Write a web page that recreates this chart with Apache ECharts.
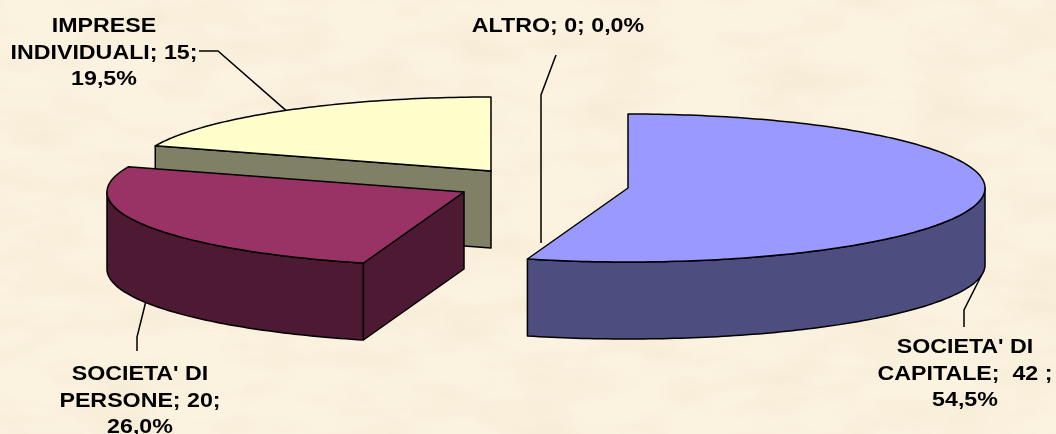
<!DOCTYPE html>
<html>
<head>
<meta charset="utf-8">
<style>
  html, body { margin: 0; padding: 0; }
  body {
    background-color: #fbf2e0;
    background-image: url("data:image/svg+xml,%3Csvg xmlns='http://www.w3.org/2000/svg' width='1056' height='434'%3E%3Cfilter id='n'%3E%3CfeTurbulence type='fractalNoise' baseFrequency='.012 .03' numOctaves='3' seed='4'/%3E%3CfeColorMatrix values='0 0 0 0 .88 0 0 0 0 .78 0 0 0 0 .58 0 0 0 .9 -.34'/%3E%3C/filter%3E%3Crect width='1056' height='434' filter='url(%23n)'/%3E%3C/svg%3E");
  }
  #main { width: 1056px; height: 434px; }
</style>
</head>
<body>
<div id="main"></div>
<script src="https://cdn.jsdelivr.net/npm/echarts@6/dist/echarts.min.js"></script>
<script>
var categories = ["SOCIETA' DI CAPITALE", "SOCIETA' DI PERSONE", "IMPRESE INDIVIDUALI", "ALTRO"];
var values = [42, 20, 15, 0];
var labelTexts = [
  "SOCIETA' DI\nCAPITALE;  42 ;\n54,5%",
  "SOCIETA' DI\nPERSONE; 20;\n26,0%",
  "IMPRESE\nINDIVIDUALI; 15;\n19,5%",
  "ALTRO; 0; 0,0%"
];
var topColors = ["#9999ff", "#993366", "#ffffcc", "#ffffff"];
var sideColors = ["#4d4d80", "#4d1933", "#808066", "#808080"];

// layout of the tilted pie
var rx = 357, ry = 74, depth = 77;
var centers = [[628, 188], [464, 192], [491, 171], [541, 171]];
var labelPos = [[965, 345], [140, 372], [104, 24], [558, 24]];
// leader bends, the first point is worked out from the slice edge
var leaderBends = [
  [[964, 310], [964, 327]],
  [[137, 337], [137, 351]],
  [[218, 51], [199, 51]],
  [[541, 95], [556, 55]]
];

var total = values.reduce(function (a, b) { return a + b; }, 0);

function pt(c, deg, drop) {
  var r = deg * Math.PI / 180;
  return [c[0] + rx * Math.sin(r), c[1] - ry * Math.cos(r) + (drop || 0)];
}

function arc(c, from, to, drop) {
  var pts = [];
  var n = Math.max(2, Math.ceil(Math.abs(to - from)));
  for (var i = 0; i <= n; i++) {
    pts.push(pt(c, from + (to - from) * i / n, drop));
  }
  return pts;
}

function poly(points, fill) {
  return {
    type: "polygon",
    shape: { points: points },
    style: { fill: fill, stroke: "#000", lineWidth: 1.5, lineJoin: "round" }
  };
}

function cutWall(c, deg, fill) {
  var p = pt(c, deg);
  return poly([c, p, [p[0], p[1] + depth], [c[0], c[1] + depth]], fill);
}

function renderSlice(idx, from, to) {
  var c = centers[idx];
  var kids = [];
  if (to > from) {
    // outer wall only where the rim faces the viewer (90..270 deg)
    var a = Math.max(from, 90), b = Math.min(to, 270);
    if (b > a) {
      kids.push(poly(arc(c, a, b, 0).concat(arc(c, b, a, depth)), sideColors[idx]));
    }
    // cut walls that can be seen from the front
    if (from > 180) kids.push(cutWall(c, from, sideColors[idx]));
    if (to < 180) kids.push(cutWall(c, to, sideColors[idx]));
    kids.push(poly([c].concat(arc(c, from, to, 0)), topColors[idx]));
  }
  return kids;
}

function renderLabel(idx, from, to) {
  var mid = (from + to) / 2;
  var start;
  if (values[idx] === 0) {
    start = [leaderBends[idx][0][0], centers[idx][1] + depth - 5];
  } else {
    start = pt(centers[idx], mid, mid > 90 && mid < 270 ? depth : 0);
  }
  return [
    {
      type: "polyline",
      shape: { points: [start].concat(leaderBends[idx]) },
      style: { fill: null, stroke: "#000", lineWidth: 1.5 }
    },
    {
      type: "text",
      x: labelPos[idx][0],
      y: labelPos[idx][1] - 11,
      scaleX: 1.16,
      style: {
        text: labelTexts[idx],
        x: 0,
        y: 0,
        fill: "#000",
        font: "bold 20px 'Liberation Sans', Arial, sans-serif",
        lineHeight: 26.7,
        align: "center",
        verticalAlign: "top"
      }
    }
  ];
}

// start angle of every slice, clockwise from 12 o'clock
var starts = [];
values.reduce(function (acc, v, i) {
  starts[i] = acc;
  return acc + v / total * 360;
}, 0);

var sliceZ = [3, 2, 1, 1];
var series = categories.map(function (name, i) {
  var from = starts[i], to = from + values[i] / total * 360;
  return {
    name: name,
    type: "custom",
    coordinateSystem: "none",
    z: sliceZ[i],
    silent: true,
    animation: false,
    data: [values[i]],
    renderItem: function () {
      return { type: "group", children: renderSlice(i, from, to) };
    }
  };
});
series.push({
  type: "custom",
  coordinateSystem: "none",
  z: 5,
  silent: true,
  animation: false,
  data: values,
  renderItem: function (params) {
    var i = params.dataIndex;
    return { type: "group", children: renderLabel(i, starts[i], starts[i] + values[i] / total * 360) };
  }
});

var chart = echarts.init(document.getElementById("main"));
chart.setOption({
  backgroundColor: "transparent",
  animation: false,
  series: series
});
</script>
</body>
</html>
